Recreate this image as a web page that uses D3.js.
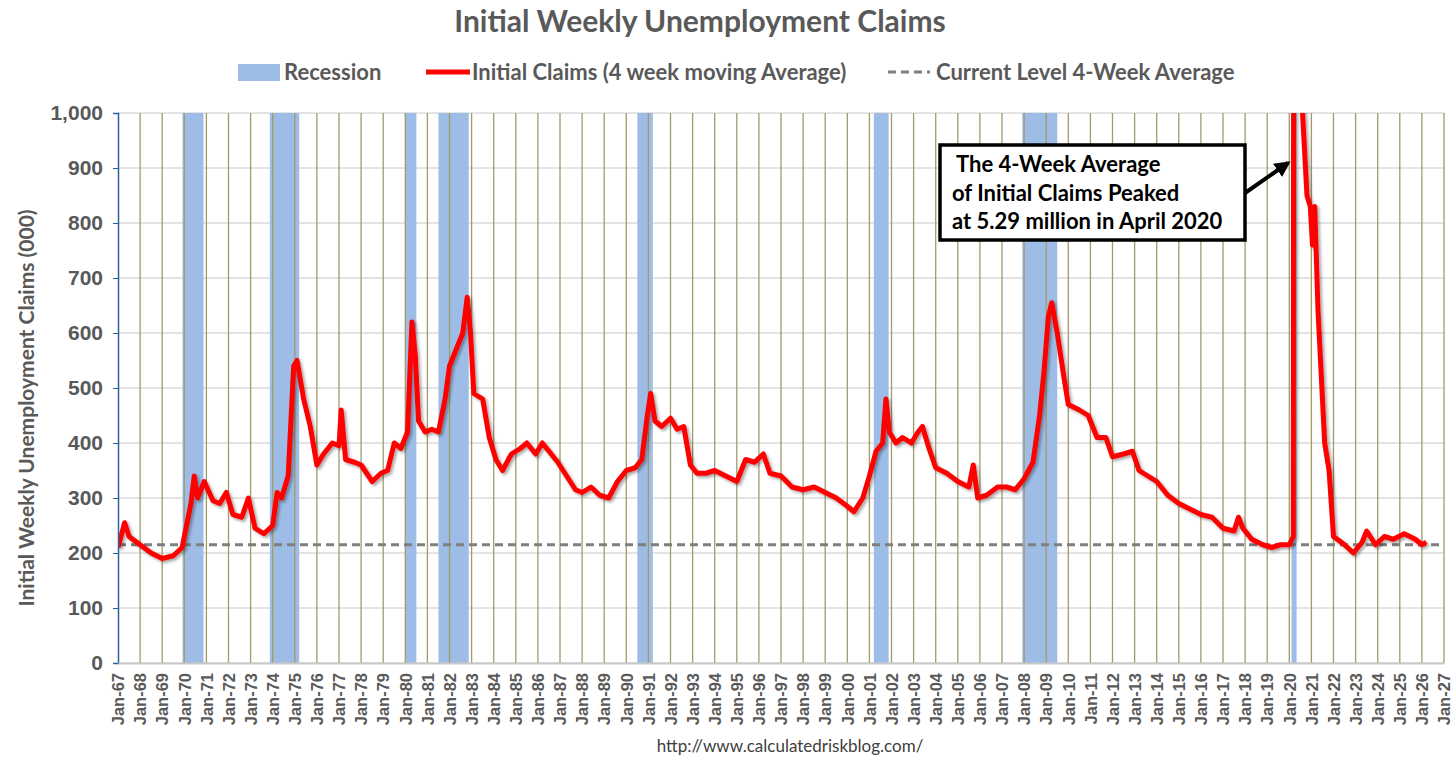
<!DOCTYPE html>
<html lang="en">
<head>
<meta charset="UTF-8">
<title>Initial Weekly Unemployment Claims</title>
<script src="https://cdn.jsdelivr.net/npm/d3@7"></script>
<style>
  body { margin: 0; background: #fff; }
  svg { font-family: Lato, "Liberation Sans", Arial, sans-serif; }
  .tick text { fill: #595959; font-weight: bold; }
</style>
</head>
<body>
<svg width="1456" height="769"></svg>
<script>
// decimal year, 4-week average (000)
const claimDates = [1967.0,1967.3,1967.5,1968.0,1968.5,1969.0,1969.5,1969.9,1970.3,1970.45,1970.6,1970.9,1971.3,1971.6,1971.9,1972.2,1972.6,1972.9,1973.2,1973.6,1974.0,1974.2,1974.4,1974.7,1974.95,1975.1,1975.4,1975.7,1976.0,1976.3,1976.7,1977.0,1977.1,1977.3,1977.7,1978.0,1978.5,1978.9,1979.2,1979.5,1979.8,1980.1,1980.3,1980.45,1980.6,1980.9,1981.2,1981.5,1981.8,1982.0,1982.3,1982.6,1982.8,1982.95,1983.1,1983.5,1983.8,1984.1,1984.4,1984.8,1985.2,1985.5,1985.9,1986.2,1986.6,1986.9,1987.3,1987.7,1988.0,1988.4,1988.8,1989.2,1989.6,1990.0,1990.4,1990.7,1990.95,1991.1,1991.3,1991.6,1992.0,1992.3,1992.6,1992.9,1993.2,1993.6,1994.0,1994.5,1995.0,1995.4,1995.8,1996.2,1996.5,1997.0,1997.5,1998.0,1998.5,1999.0,1999.5,2000.0,2000.3,2000.7,2001.0,2001.3,2001.6,2001.75,2001.9,2002.2,2002.5,2002.9,2003.2,2003.4,2003.7,2004.0,2004.5,2005.0,2005.5,2005.7,2005.9,2006.3,2006.8,2007.2,2007.6,2008.0,2008.4,2008.7,2008.9,2009.1,2009.25,2009.5,2009.8,2010.0,2010.5,2010.9,2011.3,2011.7,2012.0,2012.5,2012.9,2013.2,2013.6,2014.0,2014.5,2015.0,2015.5,2016.0,2016.5,2017.0,2017.5,2017.7,2017.9,2018.3,2018.8,2019.2,2019.6,2020.0,2020.18,2020.27,2020.45,2020.6,2020.8,2020.95,2021.05,2021.15,2021.3,2021.6,2021.8,2022.0,2022.5,2022.9,2023.3,2023.5,2023.9,2024.3,2024.7,2025.2,2025.7,2026.0,2026.2];
const claimValues = [210,255,230,215,200,190,195,210,290,340,300,330,295,290,310,270,265,300,245,235,250,310,300,340,540,550,480,430,360,380,400,395,460,370,365,360,330,345,350,400,390,420,620,560,440,420,425,420,480,540,570,600,665,600,490,480,410,370,350,380,390,400,380,400,380,365,340,315,310,320,305,300,330,350,355,370,450,490,440,430,445,425,430,360,345,345,350,340,330,370,365,380,345,340,320,315,320,310,300,285,275,300,340,385,400,480,420,400,410,400,420,430,390,355,345,330,320,360,300,305,320,320,315,335,365,450,530,630,655,600,520,470,460,450,410,410,375,380,385,350,340,330,305,290,280,270,265,245,240,265,245,225,215,210,215,215,230,5290,1500,1000,850,830,760,830,640,400,350,230,215,200,220,240,215,230,225,235,225,215,220];
const recessionStarts = [1969.92,1973.87,1980.0,1981.5,1990.5,2001.2,2007.92,2020.1];
const recessionEnds   = [1970.87,1975.2,1980.5,1982.87,1991.2,2001.87,2009.5,2020.33];
const currentLevel = 215;
const yTicks = [0,100,200,300,400,500,600,700,800,900,1000];
const xYears = d3.range(1967, 2028);

const svg = d3.select("svg");
const L = 118, R = 1444, T = 113, B = 663;
const x = d3.scaleLinear().domain([1967, 2027]).range([L, R]);
const y = d3.scaleLinear().domain([0, 1000]).range([B, T]);
const fmt = d3.format(",");

svg.append("defs").html(`
  <clipPath id="plot"><rect x="${L}" y="${T}" width="${R-L}" height="${B-T}"/></clipPath>
  <filter id="shadow" x="-5%" y="-5%" width="110%" height="110%">
    <feDropShadow dx="2" dy="2" stdDeviation="1.5" flood-color="#000" flood-opacity="0.35"/>
  </filter>
  <marker id="arrow" viewBox="0 0 10 10" refX="8" refY="5" markerWidth="4" markerHeight="4" orient="auto">
    <path d="M0,0L10,5L0,10z" fill="#000"/>
  </marker>`);

// horizontal grid
svg.append("g").selectAll("line").data(yTicks).join("line")
  .attr("x1", L).attr("x2", R).attr("y1", d => y(d)).attr("y2", d => y(d))
  .attr("stroke", "#c8c8c8").attr("stroke-width", 1);

// recession bands
svg.append("g").selectAll("rect").data(recessionStarts).join("rect")
  .attr("x", (d, i) => x(d)).attr("width", (d, i) => x(recessionEnds[i]) - x(d))
  .attr("y", T).attr("height", B - T).attr("fill", "#9dbde6");

// vertical grid
svg.append("g").selectAll("line").data(xYears.slice(1)).join("line")
  .attr("x1", d => x(d)).attr("x2", d => x(d)).attr("y1", T).attr("y2", B)
  .attr("stroke", "#a39a6a").attr("stroke-width", 1.3);

// current level
svg.append("line").attr("x1", L).attr("x2", R)
  .attr("y1", y(currentLevel)).attr("y2", y(currentLevel))
  .attr("stroke", "#7f7f7f").attr("stroke-width", 3).attr("stroke-dasharray", "8,5");

// claims line
const pts = claimDates.map((d, i) => [d, claimValues[i]]);
svg.append("path").datum(pts).attr("clip-path", "url(#plot)")
  .attr("fill", "none").attr("stroke", "#ff0000").attr("stroke-width", 5)
  .attr("stroke-linejoin", "round").attr("filter", "url(#shadow)")
  .attr("d", d3.line().x(d => x(d[0])).y(d => y(d[1])));

// axes
const yAxis = svg.append("g").attr("transform", `translate(${L},0)`)
  .call(d3.axisLeft(y).tickValues(yTicks).tickFormat(fmt).tickSize(5).tickPadding(10));
yAxis.select(".domain").attr("stroke", "#2e5f9e").attr("stroke-width", 1.5);
yAxis.selectAll(".tick line").attr("stroke", "#2e5f9e");
yAxis.selectAll("text").style("font-size", "21px");

const xAxis = svg.append("g").attr("transform", `translate(0,${B})`)
  .call(d3.axisBottom(x).tickValues(xYears).tickSize(0)
    .tickFormat(d => "Jan-" + String(d % 100).padStart(2, "0")));
xAxis.select(".domain").attr("stroke", "#c8c8c8").attr("stroke-width", 2);
xAxis.selectAll("text").style("font-size", "16.5px")
  .attr("transform", "rotate(-90)").attr("text-anchor", "end")
  .attr("x", -10).attr("y", 0).attr("dy", "0.35em");

// titles
svg.append("text").attr("x", 700).attr("y", 32).attr("text-anchor", "middle")
  .attr("font-size", 30).attr("font-weight", "bold").attr("fill", "#595959")
  .text("Initial Weekly Unemployment Claims");
svg.append("text").attr("transform", `translate(34,${(T + B) / 2 + 20}) rotate(-90)`)
  .attr("text-anchor", "middle").attr("font-size", 21).attr("font-weight", "bold")
  .attr("fill", "#595959").text("Initial Weekly Unemployment Claims (000)");
svg.append("text").attr("x", 790).attr("y", 752).attr("text-anchor", "middle")
  .attr("font-size", 17).attr("fill", "#404040").text("http://www.calculatedriskblog.com/");

// legend
const lg = svg.append("g").attr("font-size", 22).attr("font-weight", "bold").attr("fill", "#595959");
lg.append("rect").attr("x", 238).attr("y", 64).attr("width", 42).attr("height", 17).attr("fill", "#9dbde6");
lg.append("text").attr("x", 284).attr("y", 80).text("Recession");
lg.append("line").attr("x1", 426).attr("x2", 470).attr("y1", 72).attr("y2", 72)
  .attr("stroke", "#ff0000").attr("stroke-width", 5);
lg.append("text").attr("x", 472).attr("y", 80).text("Initial Claims (4 week moving Average)");
lg.append("line").attr("x1", 888).attr("x2", 930).attr("y1", 72).attr("y2", 72)
  .attr("stroke", "#7f7f7f").attr("stroke-width", 3).attr("stroke-dasharray", "8,5");
lg.append("text").attr("x", 936).attr("y", 80).text("Current Level 4-Week Average");

// annotation
svg.append("rect").attr("x", 940).attr("y", 145).attr("width", 305).attr("height", 95)
  .attr("fill", "#fff").attr("stroke", "#000").attr("stroke-width", 3.5);
const ann = svg.append("text").attr("font-size", 22).attr("font-weight", "bold").attr("fill", "#000");
["The 4-Week Average", "of Initial Claims Peaked", "at 5.29 million in April 2020"].forEach((t, i) =>
  ann.append("tspan").attr("x", i === 0 ? 956 : 952).attr("y", 172 + i * 28.5).text(t));
svg.append("line").attr("x1", 1245).attr("y1", 193).attr("x2", 1288).attr("y2", 163)
  .attr("stroke", "#000").attr("stroke-width", 4).attr("marker-end", "url(#arrow)");
</script>
</body>
</html>
